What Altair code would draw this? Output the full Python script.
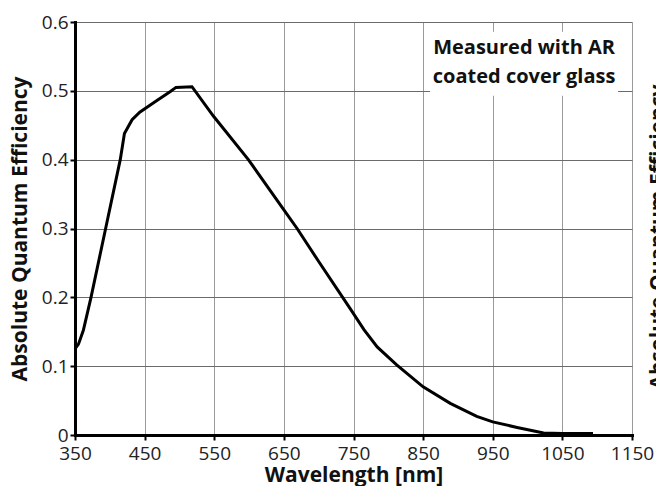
import altair as alt
import pandas as pd

wavelength = [350, 355, 362, 373, 394, 415, 421, 432, 443, 465, 487, 495, 518,
              549, 599, 650, 669, 700, 745, 765, 784, 812, 850, 889, 927, 950,
              985, 1023, 1050, 1094]
qe = [0.125, 0.132, 0.152, 0.200, 0.300, 0.400, 0.438, 0.458, 0.469, 0.484,
      0.499, 0.505, 0.506, 0.463, 0.400, 0.327, 0.300, 0.252, 0.184, 0.153,
      0.128, 0.102, 0.070, 0.046, 0.027, 0.019, 0.011, 0.003, 0.002, 0.002]

x_ticks = [350, 450, 550, 650, 750, 850, 950, 1050, 1150]
y_ticks = [0, 0.1, 0.2, 0.3, 0.4, 0.5, 0.6]

note_lines = ["Measured with AR", "coated cover glass"]
note_x = [995, 995]
note_y = [0.5625, 0.520]
box = {"x": [860], "x2": [1130], "y": [0.493], "y2": [0.586]}

right_title = ["Absolute Quantum Efficiency"]

FONT = "Open Sans"

df = pd.DataFrame({"wl": wavelength, "qe": qe})
df_note = pd.DataFrame({"t": note_lines, "x": note_x, "y": note_y})
df_box = pd.DataFrame(box)
df_rt = pd.DataFrame({"t": right_title})

xs = alt.Scale(domain=[350, 1150], nice=False, zero=False)
ys = alt.Scale(domain=[0, 0.6], nice=False)

xaxis = alt.Axis(values=x_ticks, title="Wavelength [nm]", grid=True,
                 gridColor="#9a9a9a", gridWidth=1, domainColor="black",
                 domainWidth=3, tickColor="black", tickWidth=2, tickSize=5,
                 labelFont=FONT, labelFontSize=19, labelColor="#222",
                 labelPadding=4, titleFont=FONT, titleFontSize=21,
                 titleFontWeight="bold", titleColor="#111",
                 titleY=46, titleBaseline="alphabetic",
                 labelFlush=False, format="d")
yaxis = alt.Axis(values=y_ticks, title="Absolute Quantum Efficiency", grid=True,
                 gridColor="#6a6a6a", gridWidth=1, domainColor="black",
                 domainWidth=3, tickColor="black", tickWidth=2, tickSize=5,
                 labelFont=FONT, labelFontSize=19, labelColor="#222",
                 labelPadding=2, titleFont=FONT, titleFontSize=21,
                 titleFontWeight="bold", titleColor="#111", titlePadding=11,
                 format=".1~f", labelFlush=False)

line = alt.Chart(df).mark_line(color="black", strokeWidth=3, clip=True).encode(
    x=alt.X("wl:Q", scale=xs, axis=xaxis),
    y=alt.Y("qe:Q", scale=ys, axis=yaxis),
)

rect = alt.Chart(df_box).mark_rect(color="white").encode(
    x=alt.X("x:Q", scale=xs), x2="x2:Q",
    y=alt.Y("y:Q", scale=ys), y2="y2:Q",
)

note = alt.Chart(df_note).mark_text(font=FONT, fontSize=20, fontWeight="bold",
                                    color="#111", align="center",
                                    baseline="middle").encode(
    x=alt.X("x:Q", scale=xs), y=alt.Y("y:Q", scale=ys), text="t:N"
)

rtitle = alt.Chart(df_rt).mark_text(font=FONT, fontSize=21, fontWeight="bold",
                                    color="#111", angle=270, align="center",
                                    baseline="alphabetic").encode(
    x=alt.value(590), y=alt.value(215), text="t:N"
)

chart = alt.layer(rect, line, note, rtitle).properties(
    width=557, height=413,
    autosize=alt.AutoSizeParams(type="none"),
    padding={"left": 67, "top": 14, "right": 24, "bottom": 51},
).configure_view(stroke=None).configure_axis(domainCap="square")

chart.save("out.html", embed_options={"renderer": "svg", "actions": False})
